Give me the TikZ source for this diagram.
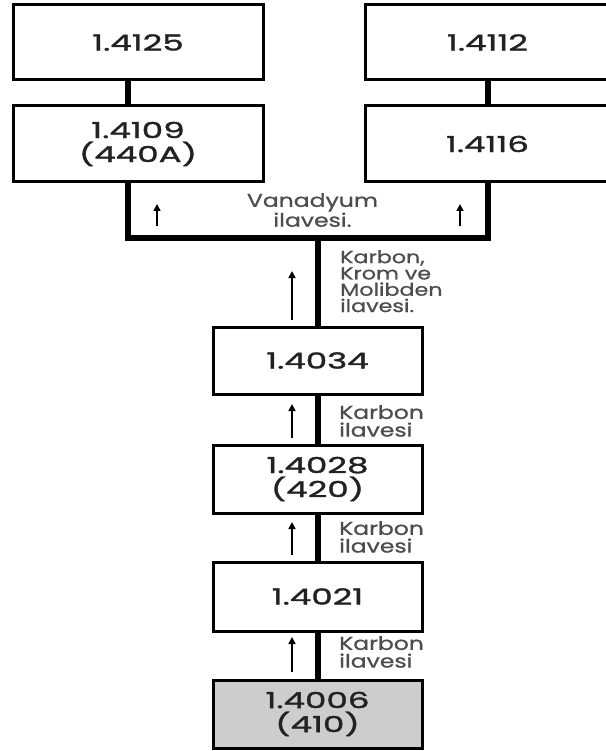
\documentclass[tikz,border=0pt]{standalone}
\usepackage{fontspec}
\setmainfont{Poppins}
\newfontfamily\numfont[FakeStretch=1.55,FakeBold=1.6]{Poppins}
\newfontfamily\labfont[FakeStretch=1.27,FakeBold=0.8]{Poppins}
\usetikzlibrary{arrows.meta}
\definecolor{numcol}{HTML}{222222}
\definecolor{labcol}{HTML}{4D4D4D}
\definecolor{greybox}{HTML}{CDCDCD}
\begin{document}
\begin{tikzpicture}[x=1pt,y=-1pt,
  box/.style={draw=black, line width=3pt, fill=white, inner sep=0pt, outer sep=0pt,
    font=\numfont\fontsize{22}{24}\selectfont, text=numcol, align=center},
  wide/.style={minimum width=#1pt, minimum height=75pt},
  small/.style={minimum width=209pt, minimum height=68pt},
  conn/.style={line width=6pt},
  uparrow/.style={line width=1.6pt, -{Triangle[width=7pt,length=7pt]}},
  lab/.style={font=\labfont\fontsize{18.5}{#1}\selectfont, text=labcol, align=left, anchor=north west, inner sep=0pt},
]
\useasboundingbox[fill=white] (0,0) rectangle (605,751);

% top boxes
\node[box, wide=250] (A) at (138,42.5) {1.4125};
\node[box, wide=250, minimum height=76pt] (B) at (138,144) {1.4109\\(440A)};
\node[box, wide=245] (C) at (487.5,42.5) {1.4112};
\node[box, wide=245, minimum height=76pt] (D) at (487.5,144) {1.4116};

% column boxes
\node[box, small, minimum height=67pt] (E) at (317.5,360.5) {1.4034};
\node[box, small] (F) at (317.5,479) {1.4028\\(420)};
\node[box, small, minimum height=69pt] (G) at (317.5,596.5) {1.4021};
\node[box, small, fill=greybox] (H) at (317.5,714) {1.4006\\(410)};

% connectors
\coordinate (J) at (317.5,238);
\draw[conn] ([xshift=-10pt]A.south) -- ([xshift=-10pt]B.north);
\draw[conn] (C.south) -- (D.north);
\draw[conn] ([xshift=-10pt]B.south) |- (J) -| (D.south);
\draw[conn] (J) -- (E.north);
\draw[conn] (E.south) -- (F.north);
\draw[conn] (F.south) -- (G.north);
\draw[conn] (G.south) -- (H.north);

% arrows
\coordinate (t1s) at (157,226); \coordinate (t1e) at (157,204);
\coordinate (t2s) at (460,226); \coordinate (t2e) at (460,204);
\coordinate (a1s) at (292,320); \coordinate (a1e) at (292,271);
\coordinate (a2s) at (292,438); \coordinate (a2e) at (292,404);
\coordinate (a3s) at (292,555); \coordinate (a3e) at (292,522);
\coordinate (a4s) at (292,672); \coordinate (a4e) at (292,637);
\draw[uparrow] (t1s) -- (t1e);
\draw[uparrow] (t2s) -- (t2e);
\draw[uparrow] (a1s) -- (a1e);
\draw[uparrow] (a2s) -- (a2e);
\draw[uparrow] (a3s) -- (a3e);
\draw[uparrow] (a4s) -- (a4e);

% labels
\node[lab=17.5, align=center, anchor=north] (LV) at (312.5,193) {Vanadyum\\ilavesi.};
\node[lab=16.3, font=\labfont\fontsize{17.5}{16.3}\selectfont] (L1) at (340,250) {Karbon,\\Krom ve\\Molibden\\ilavesi.};
\node[lab=17.7] (L2) at (339,405) {Karbon\\ilavesi};
\node[lab=17.7] (L3) at (339,521) {Karbon\\ilavesi};
\node[lab=17.7] (L4) at (339,636) {Karbon\\ilavesi};
\end{tikzpicture}
\end{document}
